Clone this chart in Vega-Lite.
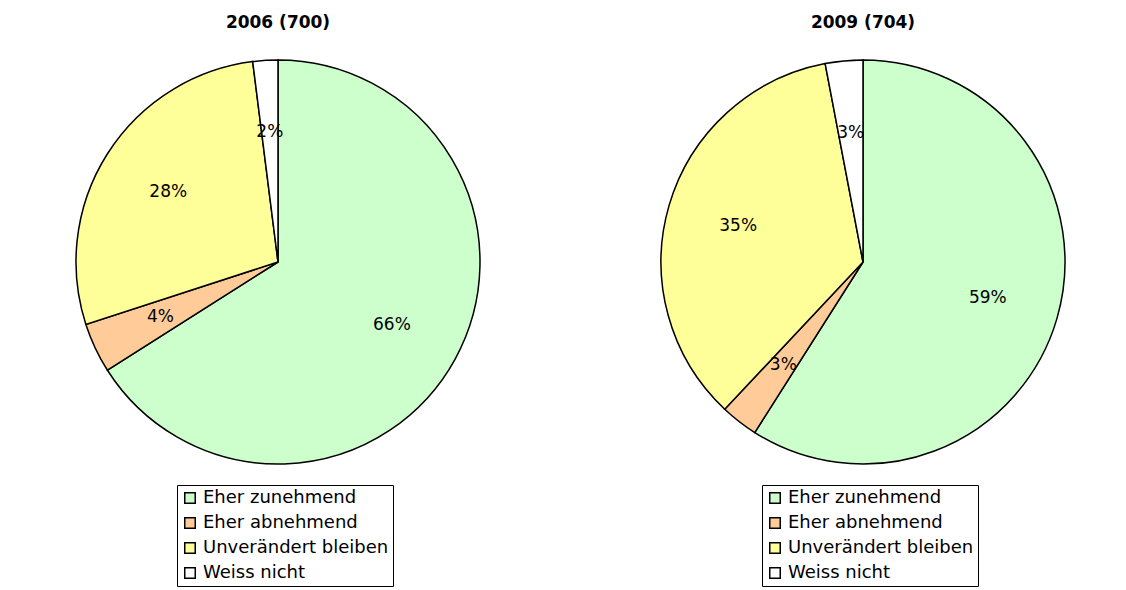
{
  "$schema": "https://vega.github.io/schema/vega-lite/v6.json",
  "padding": {"left": 8, "right": 0, "top": 14, "bottom": 0},
  "spacing": 45,
  "config": {
    "font": "DejaVu Sans",
    "view": {"stroke": null},
    "title": {"fontSize": 17, "fontWeight": "bold", "color": "black", "offset": 10}
  },
  "datasets": {
    "y2006": [
      {"cat": "Eher zunehmend", "ord": 1, "pct": 0.66},
      {"cat": "Eher abnehmend", "ord": 2, "pct": 0.04},
      {"cat": "Unverändert bleiben", "ord": 3, "pct": 0.28},
      {"cat": "Weiss nicht", "ord": 4, "pct": 0.02}
    ],
    "y2009": [
      {"cat": "Eher zunehmend", "ord": 1, "pct": 0.59},
      {"cat": "Eher abnehmend", "ord": 2, "pct": 0.03},
      {"cat": "Unverändert bleiben", "ord": 3, "pct": 0.35},
      {"cat": "Weiss nicht", "ord": 4, "pct": 0.03}
    ]
  },
  "resolve": {"scale": {"color": "independent"}, "legend": {"color": "independent"}},
  "hconcat": [
    {
      "title": "2006 (700)",
      "width": 540,
      "height": 440,
      "data": {"name": "y2006"},
      "encoding": {
        "theta": {"field": "pct", "type": "quantitative", "stack": true},
        "order": {"field": "ord", "type": "quantitative"}
      },
      "layer": [
        {
          "mark": {"type": "arc", "outerRadius": 202, "stroke": "black", "strokeWidth": 1.5},
          "encoding": {
            "color": {
              "field": "cat", "type": "nominal",
              "scale": {"domain": ["Eher zunehmend", "Eher abnehmend", "Unverändert bleiben", "Weiss nicht"], "range": ["#CCFFCC", "#FFCC99", "#FFFF99", "#FFFFFF"]},
              "legend": {"title": null, "orient": "none", "legendX": 169, "legendY": 443, "direction": "vertical", "labelFontSize": 18, "labelColor": "black", "symbolType": "square", "symbolSize": 110, "symbolStrokeColor": "black", "symbolStrokeWidth": 1.5, "strokeColor": "black", "padding": 4, "rowPadding": 7, "labelLimit": 300}
            }
          }
        },
        {
          "mark": {"type": "text", "radius": 130, "fontSize": 17, "color": "black"},
          "encoding": {"text": {"field": "pct", "type": "quantitative", "format": ".0%"}, "detail": {"field": "cat"}}
        }
      ]
    },
    {
      "title": "2009 (704)",
      "width": 540,
      "height": 440,
      "data": {"name": "y2009"},
      "encoding": {
        "theta": {"field": "pct", "type": "quantitative", "stack": true},
        "order": {"field": "ord", "type": "quantitative"}
      },
      "layer": [
        {
          "mark": {"type": "arc", "outerRadius": 202, "stroke": "black", "strokeWidth": 1.5},
          "encoding": {
            "color": {
              "field": "cat", "type": "nominal",
              "scale": {"domain": ["Eher zunehmend", "Eher abnehmend", "Unverändert bleiben", "Weiss nicht"], "range": ["#CCFFCC", "#FFCC99", "#FFFF99", "#FFFFFF"]},
              "legend": {"title": null, "orient": "none", "legendX": 169, "legendY": 443, "direction": "vertical", "labelFontSize": 18, "labelColor": "black", "symbolType": "square", "symbolSize": 110, "symbolStrokeColor": "black", "symbolStrokeWidth": 1.5, "strokeColor": "black", "padding": 4, "rowPadding": 7, "labelLimit": 300}
            }
          }
        },
        {
          "mark": {"type": "text", "radius": 130, "fontSize": 17, "color": "black"},
          "encoding": {"text": {"field": "pct", "type": "quantitative", "format": ".0%"}, "detail": {"field": "cat"}}
        }
      ]
    }
  ]
}
